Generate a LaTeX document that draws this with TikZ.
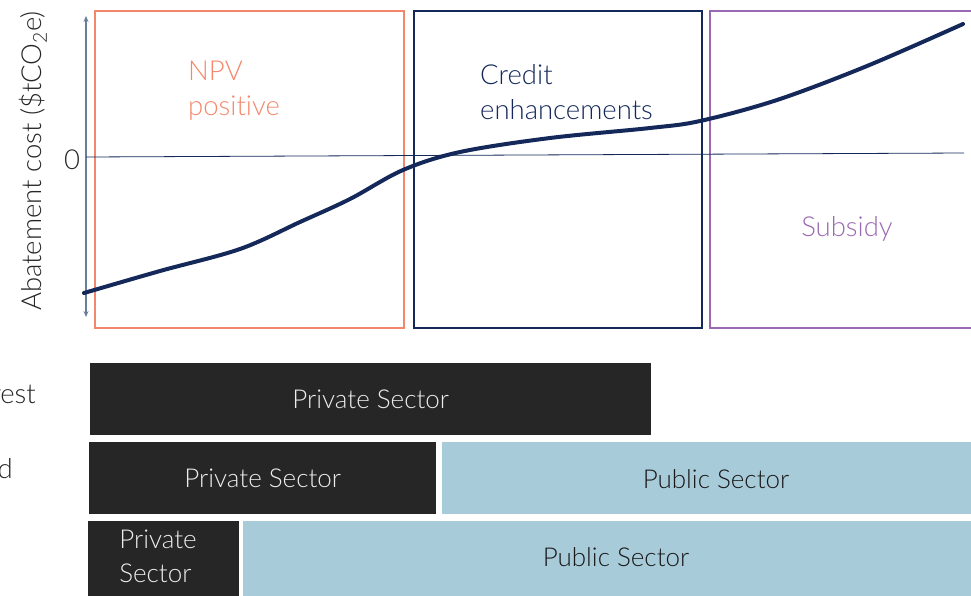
\documentclass[tikz,border=0pt]{standalone}
\usepackage{fontspec}
\setmainfont{Lato}[UprightFont={* Light}, Ligatures=NoCommon]
\usetikzlibrary{arrows.meta}
\definecolor{npv}{HTML}{F4876B}
\definecolor{navy}{HTML}{14295A}
\definecolor{purp}{HTML}{9B69B3}
\definecolor{axisc}{HTML}{6A7E99}
\definecolor{darkbar}{HTML}{262626}
\definecolor{lightbar}{HTML}{A8CBD9}
\tikzset{
  zone/.style={draw=#1, line width=1.8pt, inner sep=0pt, anchor=north west},
  lbl/.style={font=\fontsize{27.5}{35}\selectfont, inner sep=0pt, align=left},
  barfont/.style={font=\fontsize{26}{34}\selectfont},
  bar/.style={fill=#1, inner sep=0pt, anchor=north west, barfont},
  privbar/.style={bar=darkbar, text=white!93!black},
  pubbar/.style={bar=lightbar, text=black!90},
  privtext/.style={barfont, inner sep=0pt, text=white!93!black, align=left},
  pubtext/.style={barfont, inner sep=0pt, text=black!90},
}
\begin{document}
\begin{tikzpicture}[x=1pt,y=-1pt]
\useasboundingbox (0,0) rectangle (971,595);
\clip (0,0) rectangle (971,595);
% zones
\node[zone=npv, minimum width=309pt, minimum height=317pt] (znpv) at (94,10) {};
\node[zone=navy, minimum width=288pt, minimum height=317pt] (zcred) at (413,10) {};
\node[zone=purp, minimum width=290pt, minimum height=317pt] (zsub) at (709,10) {};
% axis
\coordinate (atop) at (86,16);
\coordinate (abot) at (86,317);
\draw[axisc, line width=1.3pt, {Stealth[length=6pt,width=5pt]}-{Stealth[length=6pt,width=5pt]}] (atop) -- (abot);
\coordinate (z0) at (86,157);
\coordinate (z1) at (964,153);
\draw[navy, line width=0.8pt] (z0) -- (z1);
% curve
\draw[navy, line width=4pt, line cap=round] plot[smooth, tension=0.55] coordinates {
 (84,293) (160,271) (240,249) (300,222) (350,199) (403,170) (460,152) (550,138) (650,128) (700,121) (777,100) (867,66) (963,24)};
% labels
\node[lbl, text=npv, anchor=west] (tnpv) at (188,91) {NPV\\positive};
\node[lbl, text=navy, anchor=west] (tcred) at (480,92) {Credit\\enhancements};
\node[lbl, text=purp] (tsub) at (847,229) {Subsidy};
\node[lbl, text=black!85] (tzero) at (72,160) {0};
\node[lbl, text=black!85, rotate=90] (ty) at (33,161) {Abatement cost (\$tCO\textsubscript{2}e)};
\node[lbl, text=black!85, anchor=base east] (trow1) at (36,403) {rest};
\node[lbl, text=black!85, anchor=base east] (trow2) at (13,478) {d};
% bars
\node[privbar, minimum width=561pt, minimum height=72pt] (b1) at (90,363) {Private Sector};
\node[privbar, minimum width=347pt, minimum height=72pt] (b2a) at (89,442) {Private Sector};
\node[pubbar, minimum width=540pt, minimum height=72pt] (b2b) at (442,442) {};
\node[pubtext] (t2b) at (716,479) {Public Sector};
\node[privbar, minimum width=151pt, minimum height=76pt] (b3a) at (88,521) {};
\node[privtext] (t3a) at (158,556) {Private\\Sector};
\node[pubbar, minimum width=740pt, minimum height=76pt] (b3b) at (243,521) {};
\node[pubtext] (t3b) at (616,557) {Public Sector};
\end{tikzpicture}
\end{document}
